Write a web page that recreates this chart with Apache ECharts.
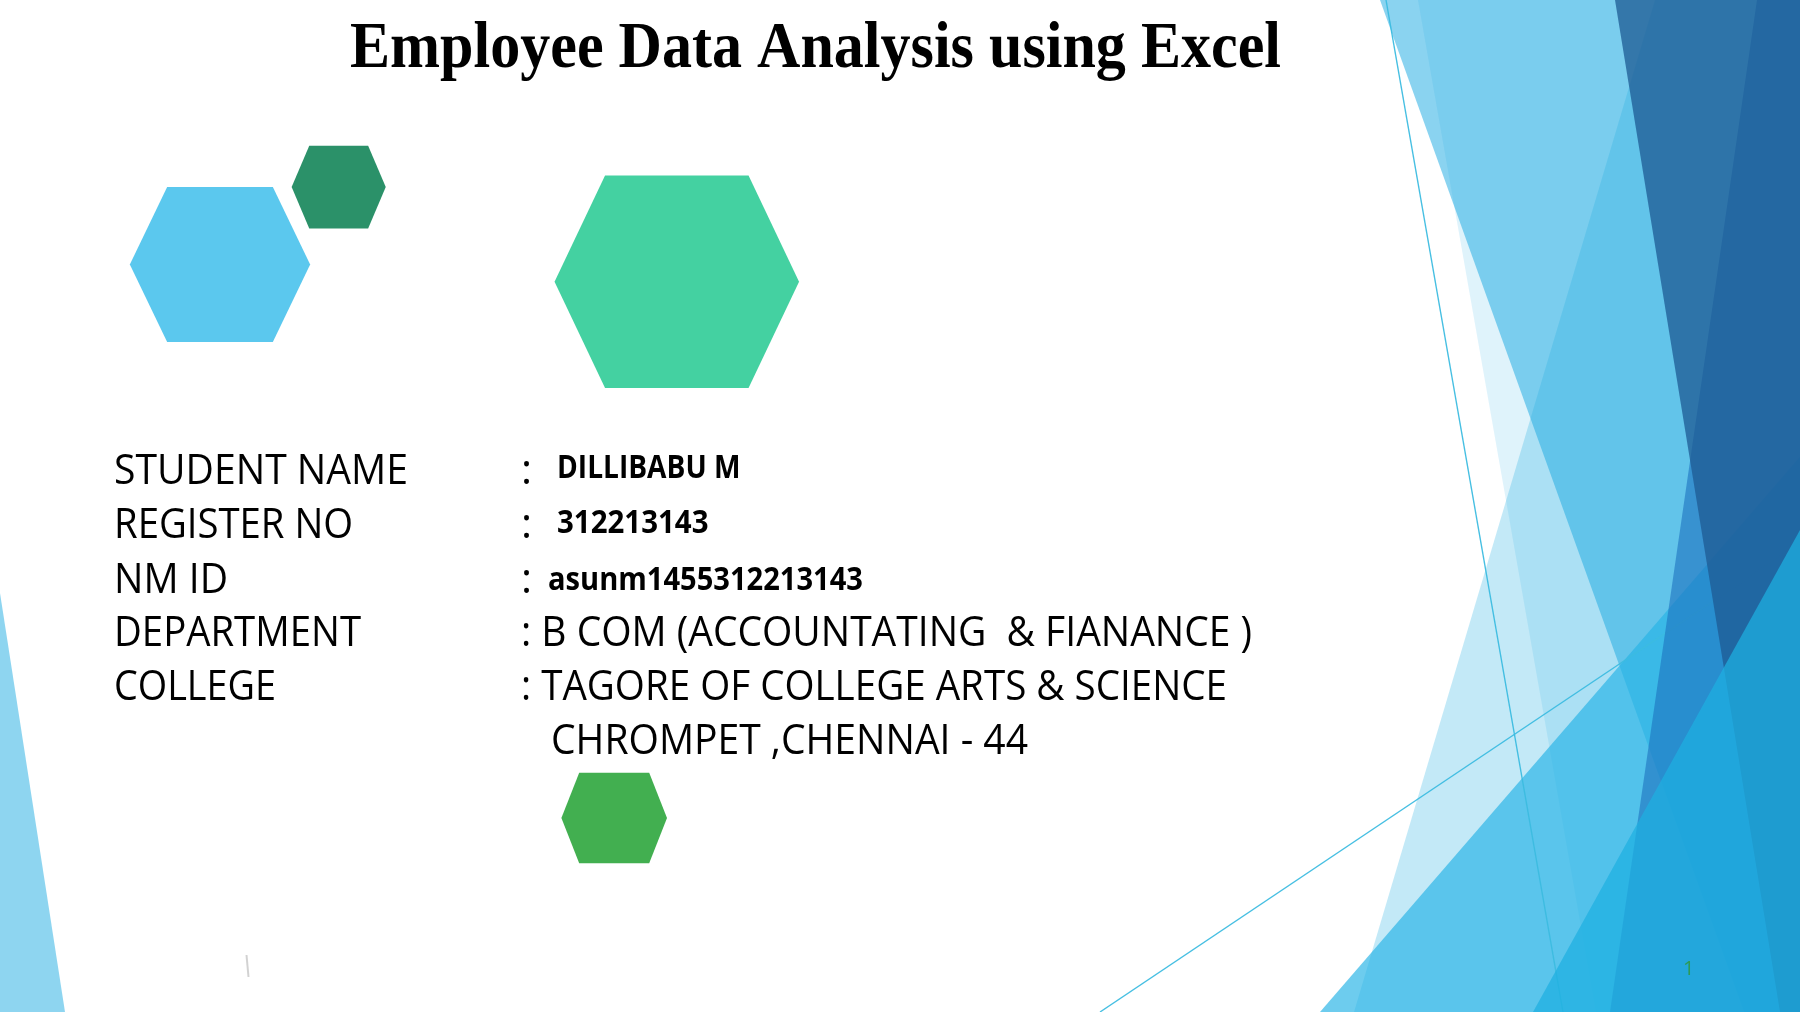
<!DOCTYPE html>
<html>
<head>
<meta charset="utf-8">
<script src="https://cdn.jsdelivr.net/npm/echarts@6/dist/echarts.min.js"></script>
<style>
html,body{margin:0;padding:0;background:#fff;}
#main{width:1800px;height:1012px;}
</style>
</head>
<body>
<div id="main"></div>
<script>
// ---------- content ----------
const titleText = 'Employee Data Analysis using Excel';
const fieldLabels = ['STUDENT NAME', 'REGISTER NO', 'NM ID', 'DEPARTMENT', 'COLLEGE'];
const fieldValues = ['DILLIBABU M', '312213143', 'asunm1455312213143', 'B COM (ACCOUNTATING  & FIANANCE )', 'TAGORE OF COLLEGE ARTS & SCIENCE'];
const collegeLine2 = 'CHROMPET ,CHENNAI - 44';
const slideNumber = '1';

// ---------- decorative geometry (slide units, 1800 x 1012) ----------
const facetShapesBack = [
  [[0, 593], [65, 1012], [0, 1012]],
  [[1380, 0], [1800, 0], [1800, 1012], [1744, 1012]],
  [[1418, 0], [1800, 0], [1800, 1012], [1596, 1012]],
  [[1655, 0], [1800, 0], [1800, 1012], [1354, 1012]],
  [[1320, 1012], [1800, 457], [1800, 1012]]
];
const facetShapesFront = [
  [[1757, 0], [1800, 0], [1800, 1012], [1610, 1012]],
  [[1615, 0], [1800, 0], [1800, 1012], [1780, 1012]],
  [[1533, 1012], [1800, 530], [1800, 1012]]
];
const facetLines = [
  [[1386, 0], [1563, 1012]],
  [[1100, 1012], [1800, 543]]
];
const specMark = [[246.5, 955], [248.5, 977]];
const hexCenters = [[220, 264.5], [338.7, 187.1], [676.8, 281.8], [614.2, 818]];
const hexWidths = [180.3, 94.1, 244.5, 105.6];
const hexHeights = [155, 82.7, 212.4, 90.7];
const hexInsets = [37.3, 17.6, 50.5, 17.8];

// ---------- styles ----------
const facetColorsBack = [
  'rgba(60,182,230,0.58)',
  'rgba(60,182,230,0.6)',
  'rgba(30,170,225,0.14)',
  'rgba(33,172,225,0.27)',
  'rgba(40,180,230,0.68)'
];
const facetColorsFront = [
  'rgba(30,114,191,0.61)',
  'rgba(30,90,147,0.75)',
  'rgba(30,175,225,0.73)'
];
const hexColors = ['#5BC8EE', '#2B9169', '#44D1A1', '#42AF50'];

// ---------- text layout ----------
const BODY_FONT = '"Open Sans", "Noto Sans", sans-serif';
const TITLE_FONT = '"Liberation Serif", "Times New Roman", serif';
const labelX = 114;
const rowBase = [488.4, 542.1, 597, 650.7, 704.6];
const labelWidths = [294, 239, 114, 247, 162];
const colonX = 521;
const valueX = [557, 557, 548, 521, 521];
const valueBase = [481.4, 536.5, 593.4, 650.7, 704.6];
const valueWidths = [183.5, 151.5, 315, 731, 706];

const mctx = document.createElement('canvas').getContext('2d');
function measure(text, size, family, weight) {
  mctx.font = weight + ' ' + size + 'px ' + family;
  return mctx.measureText(text).width;
}

const texts = [];
texts.push({ text: titleText, x: 350, base: 72.3, size: 65, family: TITLE_FONT, weight: 'bold', width: 931, mid: 0.3375, fill: '#000000' });
fieldLabels.forEach((t, i) => {
  texts.push({ text: t, x: labelX, base: rowBase[i], size: 42, family: BODY_FONT, weight: 'normal', width: labelWidths[i], mid: 0.388, fill: '#000000' });
});
fieldValues.forEach((t, i) => {
  if (i < 3) {
    texts.push({ text: ':', x: colonX, base: rowBase[i], size: 42, family: BODY_FONT, weight: 'normal', width: null, mid: 0.388, fill: '#000000' });
    texts.push({ text: t, x: valueX[i], base: valueBase[i], size: 32, family: BODY_FONT, weight: 'bold', width: valueWidths[i], mid: 0.388, fill: '#000000' });
  } else {
    texts.push({ text: ': ' + t, x: valueX[i], base: valueBase[i], size: 42, family: BODY_FONT, weight: 'normal', width: valueWidths[i], mid: 0.388, fill: '#000000' });
  }
});
texts.push({ text: collegeLine2, x: 551, base: 758.6, size: 42, family: BODY_FONT, weight: 'normal', width: 477, mid: 0.388, fill: '#000000' });
texts.push({ text: slideNumber, x: 1683, base: 977, size: 20, family: BODY_FONT, weight: 'normal', width: null, mid: 0.388, fill: '#2E9A55' });

const chart = echarts.init(document.getElementById('main'), null, { renderer: 'canvas' });

function polygonSeries(name, shapes, colors, z) {
  return {
    type: 'custom',
    name: name,
    silent: true,
    clip: false,
    z: z,
    data: shapes.map((s, i) => [s[0][0], s[0][1], i]),
    renderItem: function (params, api) {
      const i = params.dataIndex;
      return {
        type: 'polygon',
        shape: { points: shapes[i].map(p => api.coord(p)) },
        style: { fill: colors[i] }
      };
    }
  };
}

const option = {
  animation: false,
  backgroundColor: '#ffffff',
  grid: { left: 0, right: 0, top: 0, bottom: 0, containLabel: false },
  xAxis: { type: 'value', min: 0, max: 1800, show: false },
  yAxis: { type: 'value', min: 0, max: 1012, inverse: true, show: false },
  series: [
    polygonSeries('facetsBack', facetShapesBack, facetColorsBack, 1),
    {
      type: 'lines',
      name: 'facetLines',
      coordinateSystem: 'cartesian2d',
      silent: true,
      z: 2,
      data: facetLines.map(c => ({ coords: c })),
      lineStyle: { color: '#3CBCE0', width: 1.4, opacity: 0.95, curveness: 0 }
    },
    polygonSeries('facetsFront', facetShapesFront, facetColorsFront, 3),
    {
      type: 'lines',
      name: 'mark',
      coordinateSystem: 'cartesian2d',
      silent: true,
      z: 4,
      data: [{ coords: specMark }],
      lineStyle: { color: 'rgba(90,90,90,0.55)', width: 2, curveness: 0 }
    },
    {
      type: 'custom',
      name: 'hexagons',
      silent: true,
      clip: false,
      z: 5,
      data: hexCenters.map((c, i) => [c[0], c[1], i]),
      renderItem: function (params, api) {
        const i = params.dataIndex;
        const c = hexCenters[i], w = hexWidths[i], h = hexHeights[i], k = hexInsets[i];
        const pts = [
          [c[0] - w / 2, c[1]],
          [c[0] - w / 2 + k, c[1] - h / 2],
          [c[0] + w / 2 - k, c[1] - h / 2],
          [c[0] + w / 2, c[1]],
          [c[0] + w / 2 - k, c[1] + h / 2],
          [c[0] - w / 2 + k, c[1] + h / 2]
        ].map(p => api.coord(p));
        return { type: 'polygon', shape: { points: pts }, style: { fill: hexColors[i] } };
      }
    },
    {
      type: 'custom',
      name: 'texts',
      silent: true,
      clip: false,
      z: 6,
      data: texts.map((t, i) => [t.x, t.base, i]),
      renderItem: function (params, api) {
        const t = texts[params.dataIndex];
        const p = api.coord([t.x, t.base - t.mid * t.size]);
        let sx = 1;
        if (t.width) {
          const w = measure(t.text, t.size, t.family, t.weight);
          if (w > 0) sx = t.width / w;
        }
        return {
          type: 'text',
          x: p[0],
          y: p[1],
          scaleX: sx,
          style: {
            text: t.text,
            fontSize: t.size,
            fontFamily: t.family,
            fontWeight: t.weight,
            fill: t.fill,
            align: 'left',
            verticalAlign: 'middle'
          }
        };
      }
    }
  ]
};
chart.setOption(option);
</script>
</body>
</html>
